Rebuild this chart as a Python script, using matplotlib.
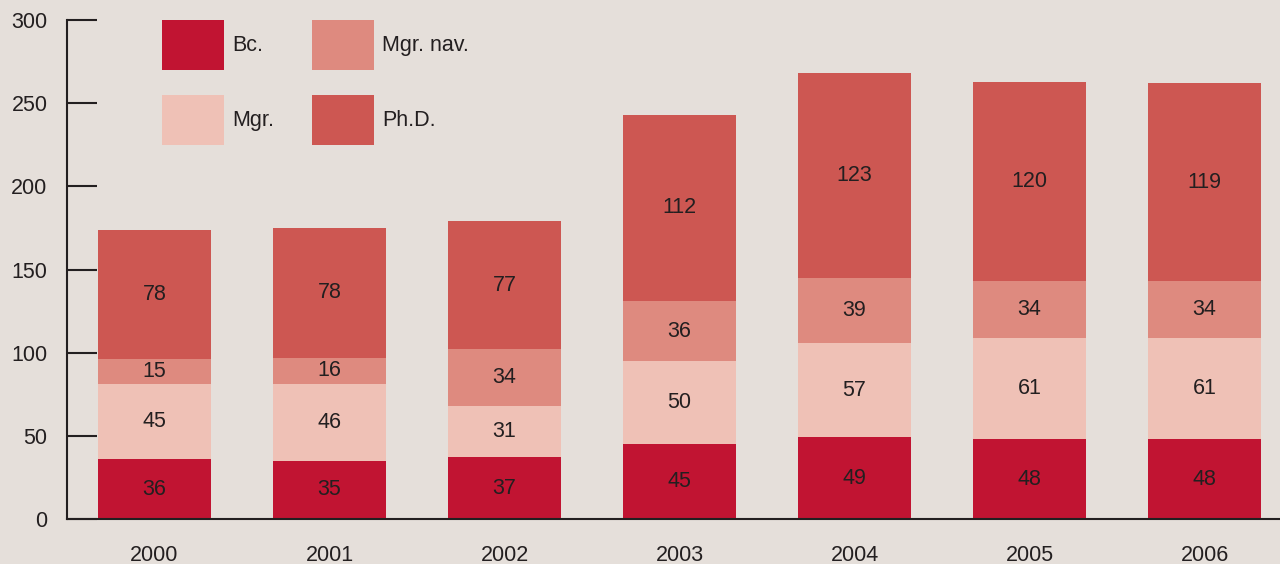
import matplotlib
matplotlib.use("Agg")
import matplotlib.pyplot as plt
import numpy as np

years = ["2000", "2001", "2002", "2003", "2004", "2005", "2006"]
series_names = ["Bc.", "Mgr.", "Mgr. nav.", "Ph.D."]
bc = [36, 35, 37, 45, 49, 48, 48]
mgr = [45, 46, 31, 50, 57, 61, 61]
mgr_nav = [15, 16, 34, 36, 39, 34, 34]
phd = [78, 78, 77, 112, 123, 120, 119]
colors = ["#c11432", "#efc1b6", "#de8a7f", "#cd5752"]
yticks = [0, 50, 100, 150, 200, 250, 300]

plt.rcParams['font.family'] = ['Liberation Sans', 'DejaVu Sans']
bg = "#e5dfda"
ink = "#231f20"
fs = 15.5

fig = plt.figure(figsize=(12.8, 5.64), dpi=100, facecolor=bg)
ax = fig.add_axes([67/1280, 45/564, 1 - 67/1280, 499/564])
ax.set_facecolor(bg)

x = np.arange(len(years))
bottom = np.zeros(len(years))
handles = []
for vals, col, name in zip([bc, mgr, mgr_nav, phd], colors, series_names):
    vals = np.array(vals, dtype=float)
    b = ax.bar(x, vals, width=0.646, bottom=bottom, color=col, label=name, zorder=2)
    handles.append(b)
    for xi, v, bt in zip(x, vals, bottom):
        ax.text(xi, bt + v / 2, f"{int(v)}", ha="center", va="center",
                fontsize=fs, color=ink, zorder=3)
    bottom += vals

ax.set_xlim(-0.5, (1280 - 154.5) / 175)
ax.set_ylim(0, 300)
ax.set_yticks(yticks)
ax.set_xticks(x)
ax.set_xticklabels(years)
ax.tick_params(axis='y', direction='in', length=21.6, width=1.5, color=ink,
               pad=14, labelsize=fs, labelcolor=ink)
ax.tick_params(axis='x', length=0, pad=19, labelsize=fs, labelcolor=ink)
for s in ["top", "right"]:
    ax.spines[s].set_visible(False)
ax.spines["left"].set_color(ink)
ax.spines["left"].set_linewidth(1.5)
ax.spines["bottom"].set_color(ink)
ax.spines["bottom"].set_linewidth(1.5)
ax.spines["bottom"].set_zorder(3)

lfs = 15.5
px = lfs * 100 / 72
leg = ax.legend(handles=handles, labels=series_names, ncol=2, loc="upper left",
                bbox_to_anchor=((162 - 67) / 1213, 1.0), bbox_transform=ax.transAxes,
                frameon=False, fontsize=lfs, handlelength=62 / px,
                handleheight=(50 / px) * (50 / 38) * (50 / 48),
                handletextpad=8 / px, labelspacing=25 / px, columnspacing=38 / px,
                borderpad=0, borderaxespad=0)
for t in leg.get_texts():
    t.set_color(ink)

fig.savefig("out.png", dpi=100, facecolor=bg)
